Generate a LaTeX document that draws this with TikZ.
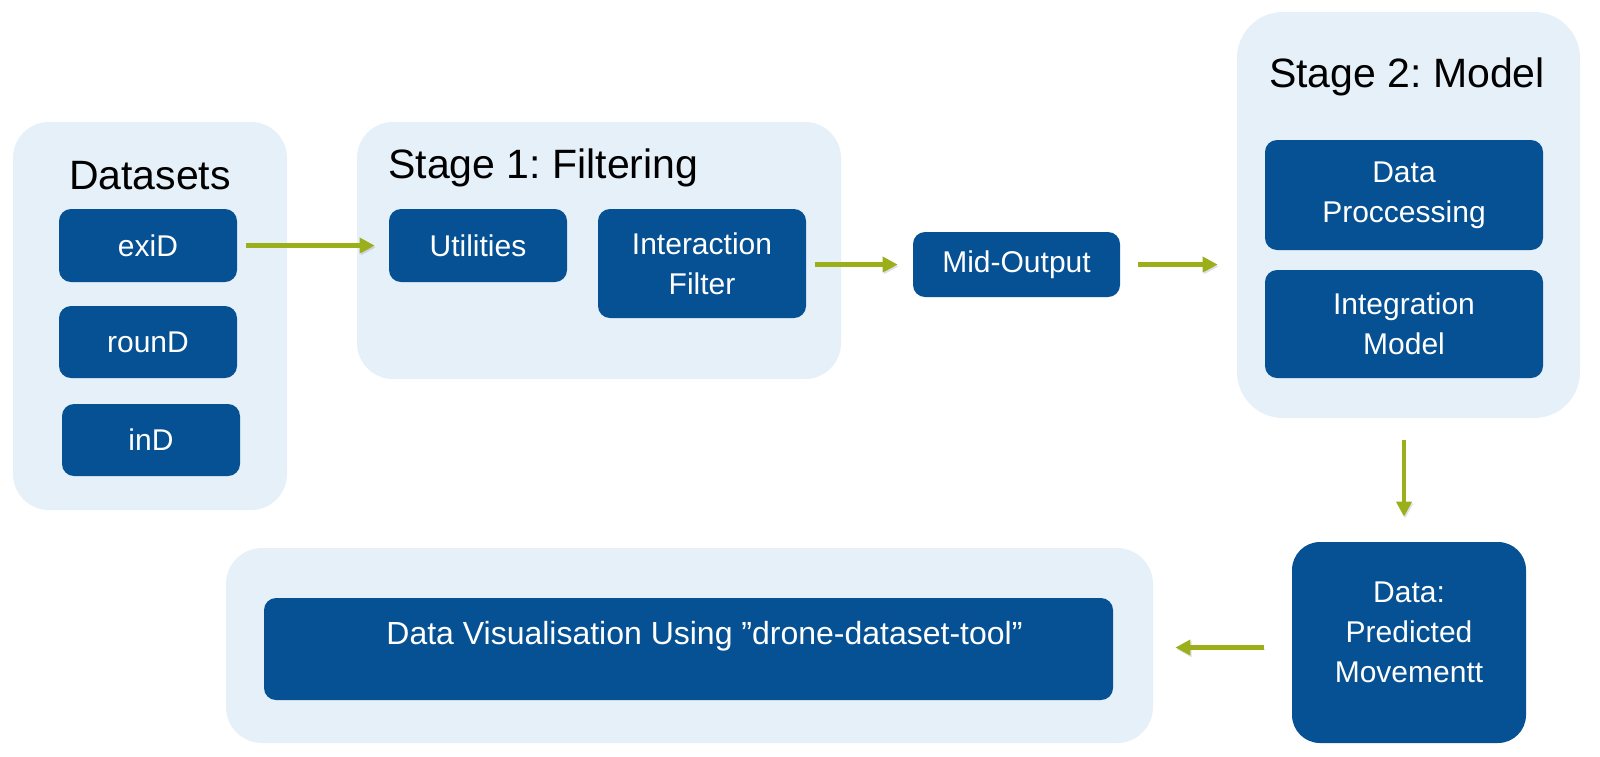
\documentclass[tikz,border=0pt]{standalone}
\usepackage{fontspec}
\setmainfont{Liberation Sans}
\frenchspacing
\usetikzlibrary{arrows.meta}
\definecolor{dblue}{HTML}{055193}
\definecolor{lblue}{HTML}{E6F0F9}
\definecolor{agreen}{HTML}{9BAF1A}
\tikzset{
  container/.style={fill=lblue, draw=none, rounded corners=18pt, inner sep=0pt},
  dbox/.style={fill=dblue, draw=none, rounded corners=6pt, inner sep=0pt, text=white,
    align=center, font=\fontsize{15pt}{20pt}\selectfont},
  title/.style={inner sep=0pt, font=\fontsize{20.5pt}{24pt}\selectfont, text=black},
  flow/.style={draw=agreen, line width=2.3pt, -{Triangle[length=7.5pt,width=7.5pt]},
    preaction={draw=black, opacity=0.12, transform canvas={shift={(0.6pt,-0.9pt)}}}}
}
\begin{document}
\begin{tikzpicture}[x=0.5pt,y=-0.5pt]
\useasboundingbox (0,0) rectangle (1600,756);
% containers
\node[container, minimum width=137pt, minimum height=194pt] (cdata) at (150,316) {};
\node[container, minimum width=242pt, minimum height=128.5pt] (cst1) at (599,250.5) {};
\node[container, minimum width=171.5pt, minimum height=203pt, rounded corners=23pt] (cst2) at (1408.5,215) {};
\node[container, minimum width=463.5pt, minimum height=97.5pt] (cvis) at (689.5,645.5) {};
% titles
\node[title] (tdata) at (150,176) {Datasets};
\node[title, anchor=west] (tst1) at (388,168) {Stage 1: Filtering};
\node[title] (tst2) at (1407,77) {Stage 2: Model};
% dataset boxes
\node[dbox, minimum width=89pt, minimum height=36.5pt] (exid) at (148,245.5) {exiD};
\node[dbox, minimum width=89pt, minimum height=36pt] (round) at (148,342) {rounD};
\node[dbox, minimum width=89pt, minimum height=36pt] (ind) at (151,440) {inD};
% stage 1
\node[dbox, minimum width=89pt, minimum height=36.5pt] (util) at (478,245.5) {Utilities};
\node[dbox, minimum width=104pt, minimum height=54.5pt] (inter) at (702,263.5) {Interaction\\Filter};
% mid
\node[dbox, minimum width=103.5pt, minimum height=32.5pt] (mid) at (1016.5,264.5) {Mid-Output};
% stage 2
\node[dbox, minimum width=139pt, minimum height=55pt] (proc) at (1404,195) {Data\\Proccessing};
\node[dbox, minimum width=139pt, minimum height=54pt] (integ) at (1404,324) {Integration\\Model};
% prediction
\node[dbox, minimum width=117pt, minimum height=100.5pt, rounded corners=14pt] (pred) at (1409,642.5) {};
\node[inner sep=0pt, text=white, align=center, font=\fontsize{15pt}{20pt}\selectfont] (predt) at (1409,632) {Data:\\Predicted\\Movementt};
% visualisation
\node[dbox, minimum width=424.5pt, minimum height=51pt] (vis) at (688.5,649) {};
\node[inner sep=0pt, text=white, anchor=base west, font=\fontsize{16pt}{20pt}\selectfont] (vist) at (386,644) {Data Visualisation Using ”drone-dataset-tool”};
% arrows
\draw[flow, shorten <=4.5pt, shorten >=7pt] (exid.east) -- (util.west);
\draw[flow, shorten <=4.5pt, shorten >=7.5pt] (inter.east |- mid.west) -- (mid.west);
\draw[flow, shorten <=9pt, shorten >=9.5pt] (mid.east) -- (cst2.west |- mid.east);
\draw[flow, shorten <=11pt, shorten >=12.5pt] ([xshift=-2.5pt]cst2.south -| pred.north) -- ([xshift=-2.5pt]pred.north);
\draw[flow, shorten <=14pt, shorten >=11pt] ([yshift=-2.5pt]pred.west) -- ([yshift=-2.5pt]cvis.east |- pred.west);
\end{tikzpicture}
\end{document}
